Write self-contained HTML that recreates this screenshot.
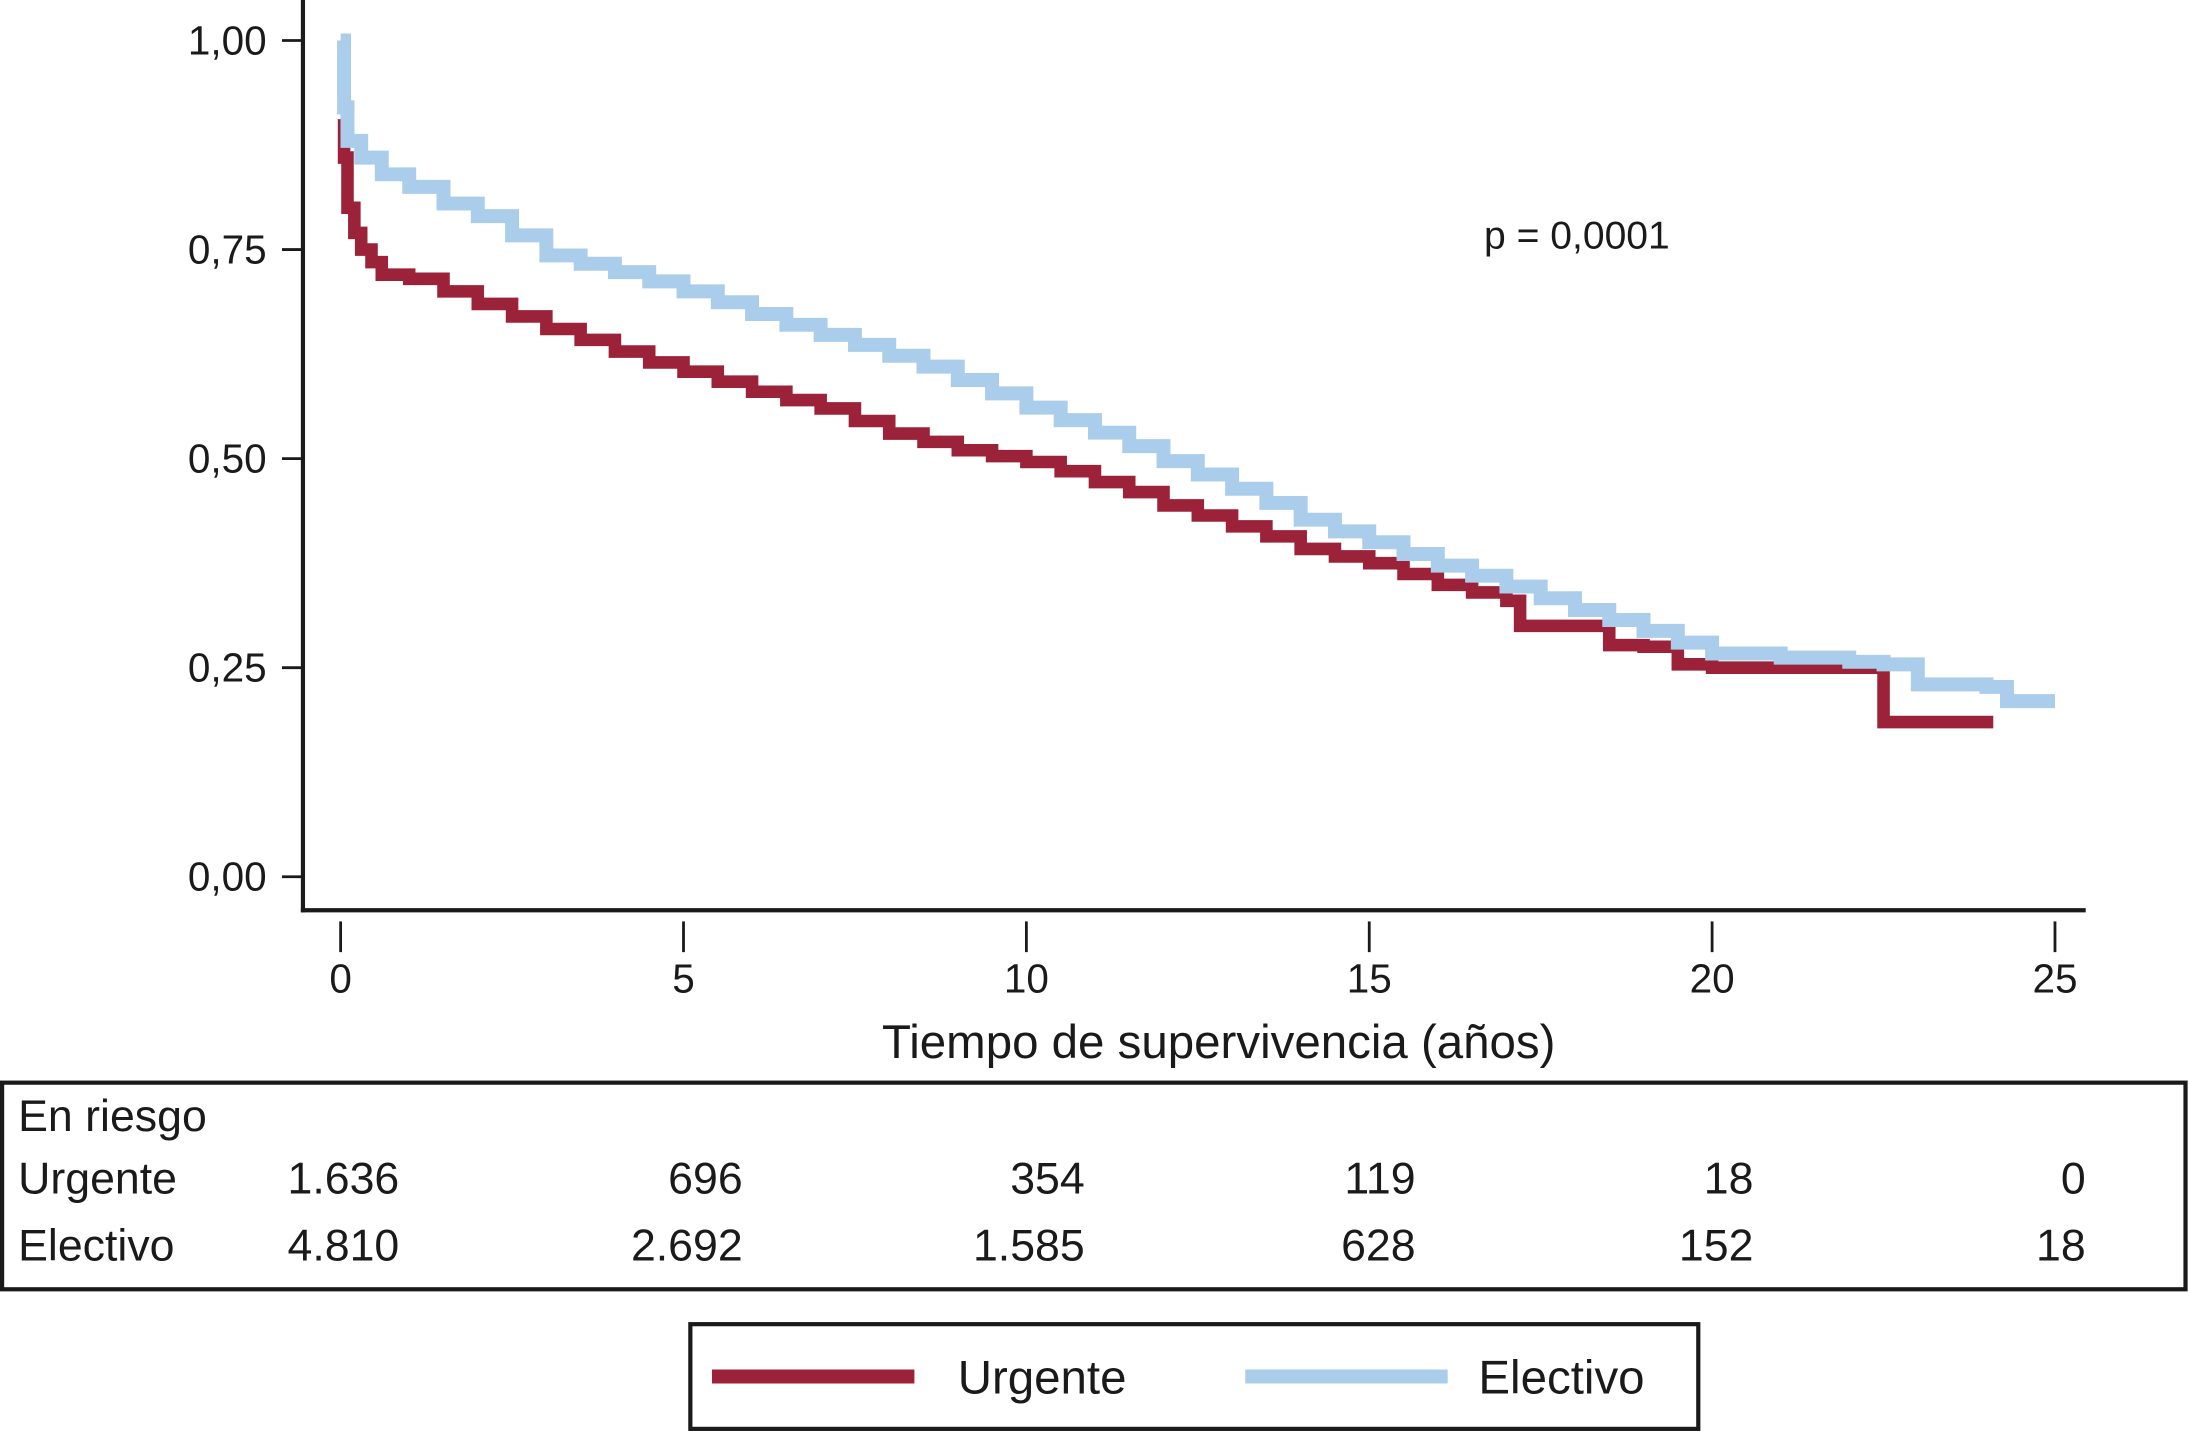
<!DOCTYPE html>
<html><head><meta charset="utf-8"><style>
html,body{margin:0;padding:0;background:#fff}
svg{display:block}
text{font-family:"Liberation Sans",Arial,sans-serif;fill:#1a1a1a}
</style></head><body>
<svg id="chart" width="2189" height="1431" viewBox="0 0 1568 1025" xmlns="http://www.w3.org/2000/svg">
<g id="axes"></g>
<g id="series"></g>
<text x="1063" y="178" font-size="28">p = 0,0001</text>
<text x="873" y="758" font-size="34" text-anchor="middle">Tiempo de supervivencia (años)</text>
<rect x="1.5" y="775.5" width="1564" height="148" fill="none" stroke="#1a1a1a" stroke-width="3"/>
<text x="13" y="810" font-size="32">En riesgo</text>
<g id="risk"></g>
<rect x="494.5" y="948.5" width="722" height="75" fill="none" stroke="#1a1a1a" stroke-width="3"/>
<line x1="510" y1="986" x2="655" y2="986" stroke="#9b2238" stroke-width="10"/>
<text x="686" y="998" font-size="34">Urgente</text>
<line x1="892" y1="986" x2="1037" y2="986" stroke="#abcdec" stroke-width="10"/>
<text x="1059" y="998" font-size="34">Electivo</text>
</svg>
<script>
const xTicks=[0,5,10,15,20,25];
const yTicks=[0,0.25,0.5,0.75,1];
const yTickLabels=["0,00","0,25","0,50","0,75","1,00"];
const urgTimes=[0,0.05,0.1,0.2,0.3,0.45,0.6,1,1.5,2,2.5,3,3.5,4,4.5,5,5.5,6,6.5,7,7.5,8,8.5,9,9.5,10,10.5,11,11.5,12,12.5,13,13.5,14,14.5,15,15.5,16,16.5,17,17.2,18,18.5,19,19.5,20,22.5,24.1];
const urgVals=[0.906,0.86,0.80,0.77,0.75,0.735,0.72,0.715,0.70,0.685,0.67,0.655,0.642,0.628,0.615,0.604,0.592,0.58,0.57,0.56,0.545,0.53,0.52,0.51,0.503,0.496,0.485,0.472,0.46,0.444,0.432,0.419,0.407,0.392,0.383,0.375,0.362,0.349,0.34,0.33,0.30,0.30,0.277,0.275,0.254,0.25,0.185,0.185];
const eleTimes=[0,0.05,0.1,0.3,0.6,1,1.5,2,2.5,3,3.5,4,4.5,5,5.5,6,6.5,7,7.5,8,8.5,9,9.5,10,10.5,11,11.5,12,12.5,13,13.5,14,14.5,15,15.5,16,16.5,17,17.5,18,18.5,19,19.5,20,21,22,22.5,23,24,24.3,25];
const eleVals=[1.0,0.92,0.88,0.86,0.84,0.825,0.805,0.79,0.767,0.743,0.733,0.723,0.712,0.70,0.687,0.673,0.66,0.648,0.636,0.623,0.61,0.594,0.578,0.561,0.546,0.531,0.515,0.497,0.481,0.464,0.447,0.427,0.413,0.40,0.386,0.372,0.36,0.347,0.333,0.319,0.307,0.294,0.28,0.267,0.262,0.257,0.254,0.23,0.227,0.21,0.21];
const riskCols=[0,5,10,15,20,25];
const riskUrg=["1.636","696","354","119","18","0"];
const riskEle=["4.810","2.692","1.585","628","152","18"];
const riskRight=[286,532,777,1014,1256,1494];

const X=t=>244+t*(1472-244)/25;
const Y=v=>628-v*(628-29);
const NS="http://www.w3.org/2000/svg";
function mk(tag,attrs,parent){const e=document.createElementNS(NS,tag);for(const k in attrs)e.setAttribute(k,attrs[k]);parent.appendChild(e);return e;}
const axes=document.getElementById('axes');
let yl=mk('line',{x1:217,y1:0,x2:217,y2:653.5,stroke:'#1a1a1a','stroke-width':3},axes);


let xl=mk('line',{x1:215.5,y1:652,x2:1494,y2:652,stroke:'#1a1a1a','stroke-width':3},axes);


yTicks.forEach((v,i)=>{
 let tk=mk('line',{x1:202,y1:Y(v),x2:217,y2:Y(v),stroke:'#1a1a1a','stroke-width':2},axes);
 
 
 let tx=mk('text',{x:191,y:Y(v)+10,'font-size':29,'text-anchor':'end'},axes);
 tx.textContent=yTickLabels[i];
 
 
});
xTicks.forEach(t=>{
 let tk=mk('line',{x1:X(t),y1:660,x2:X(t),y2:682,stroke:'#1a1a1a','stroke-width':2},axes);
 
 
 let tx=mk('text',{x:X(t),y:711,'font-size':29,'text-anchor':'middle'},axes);
 tx.textContent=String(t);
 
 
});
function stepPath(ts,vs){let d='M'+X(ts[0])+' '+Y(vs[0]);for(let i=1;i<ts.length;i++){d+=' H'+X(ts[i])+' V'+Y(vs[i]);}return d;}
const ser=document.getElementById('series');
let pu=mk('path',{d:stepPath(urgTimes,urgVals),fill:'none',stroke:'#9b2238','stroke-width':9,'stroke-linejoin':'miter'},ser);


let pe=mk('path',{d:stepPath(eleTimes,eleVals),fill:'none',stroke:'#abcdec','stroke-width':10,'stroke-linejoin':'miter'},ser);


const risk=document.getElementById('risk');
let l1=mk('text',{x:13,y:855,'font-size':32},risk);l1.textContent='Urgente';


let l2=mk('text',{x:13,y:903,'font-size':32},risk);l2.textContent='Electivo';


riskCols.forEach((c,i)=>{
 let a=mk('text',{x:riskRight[i],y:855,'font-size':32,'text-anchor':'end'},risk);a.textContent=riskUrg[i];
 
 
 let b=mk('text',{x:riskRight[i],y:903,'font-size':32,'text-anchor':'end'},risk);b.textContent=riskEle[i];
 
 
});
</script>
</body></html>
